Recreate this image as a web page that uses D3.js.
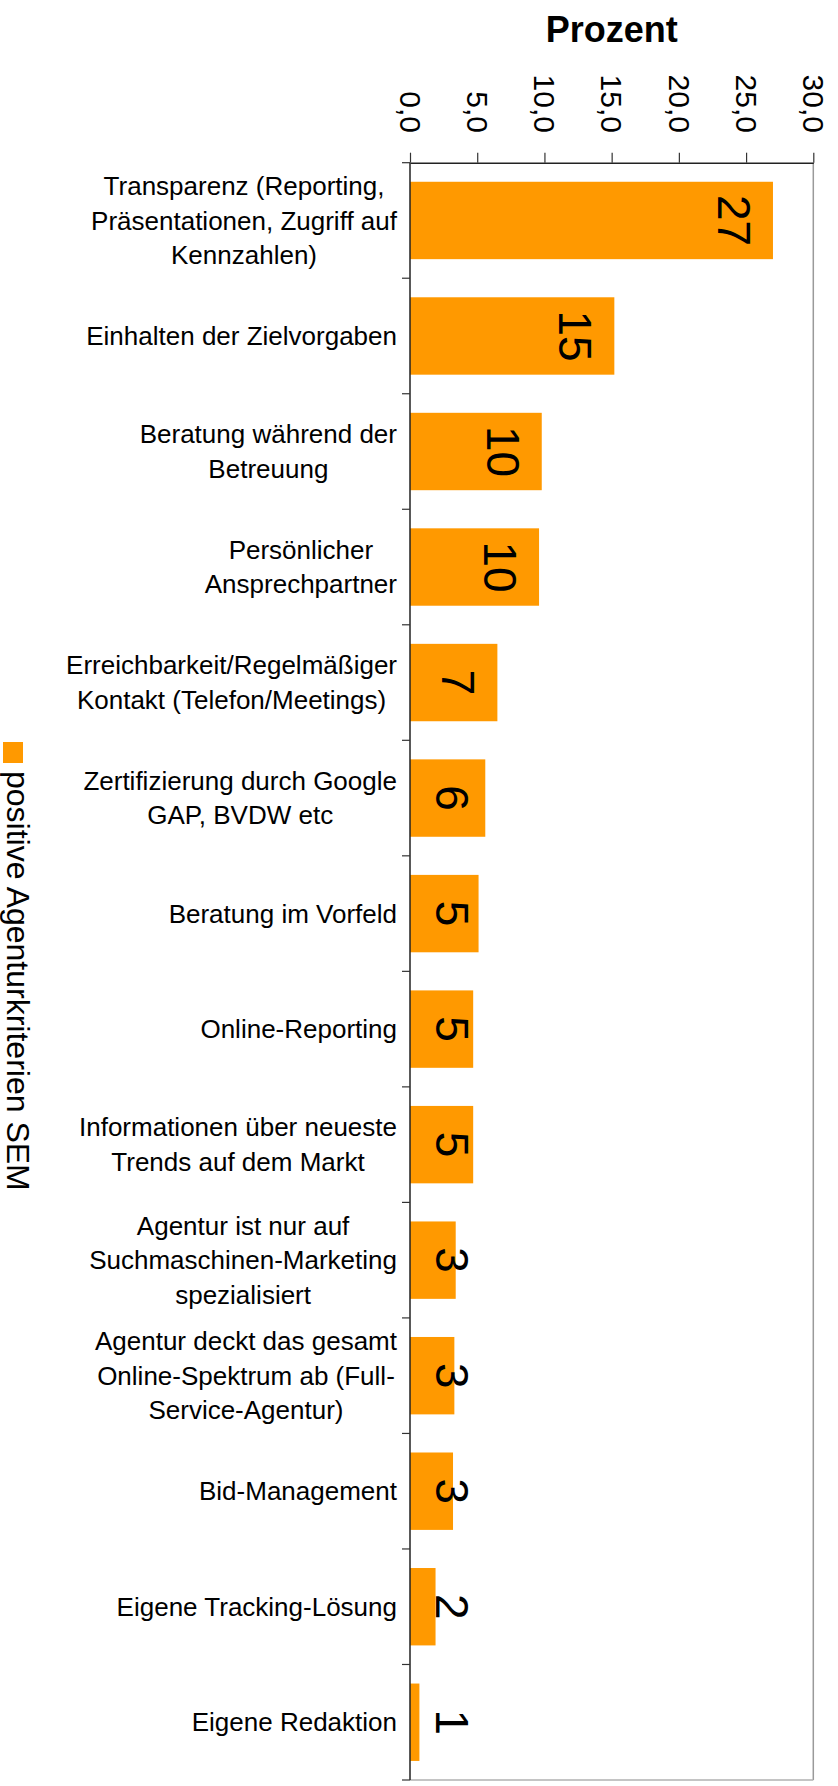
<!DOCTYPE html>
<html>
<head>
<meta charset="utf-8">
<script src="https://cdn.jsdelivr.net/npm/d3@7"></script>
<style>
  body { margin: 0; background: #fff; }
  text { font-family: "Liberation Sans", Arial, sans-serif; fill: #000; }
</style>
</head>
<body>
<svg id="chart"></svg>
<script>
var categories = [
  "Transparenz (Reporting,\nPräsentationen, Zugriff auf\nKennzahlen)",
  "Einhalten der Zielvorgaben",
  "Beratung während der\nBetreuung",
  "Persönlicher\nAnsprechpartner",
  "Erreichbarkeit/Regelmäßiger\nKontakt (Telefon/Meetings)",
  "Zertifizierung durch Google\nGAP, BVDW etc",
  "Beratung im Vorfeld",
  "Online-Reporting",
  "Informationen über neueste\nTrends auf dem Markt",
  "Agentur ist nur auf\nSuchmaschinen-Marketing\nspezialisiert",
  "Agentur deckt das gesamt\nOnline-Spektrum ab (Full-\nService-Agentur)",
  "Bid-Management",
  "Eigene Tracking-Lösung",
  "Eigene Redaktion"
];
var values = [27.0, 15.2, 9.8, 9.6, 6.5, 5.6, 5.1, 4.7, 4.7, 3.4, 3.3, 3.2, 1.9, 0.7];
var xTicks = [0, 5, 10, 15, 20, 25, 30];
var seriesName = "positive Agenturkriterien SEM";
var axisTitle = "Prozent";

var width = 838;
var height = 1786;
var orange = "#ff9900";

var svg = d3.select("#chart")
  .attr("width", width)
  .attr("height", height);

// plot area edges (note: "top" is a reserved window property, so use other names)
var plotLeft = 410, plotRight = 813.3, plotTop = 162.7, plotBottom = 1780;

var x = d3.scaleLinear().domain([0, 30]).range([plotLeft, plotRight]);
var y = d3.scaleBand().domain(categories).range([plotTop, plotBottom])
  .paddingInner(0.33).paddingOuter(0.165);

// plot frame (right + bottom are light grey)
svg.append("line")
  .attr("x1", plotRight).attr("x2", plotRight).attr("y1", plotTop).attr("y2", plotBottom)
  .style("stroke", "#9a9a9a").style("stroke-width", 1.5);
svg.append("line")
  .attr("x1", plotLeft).attr("x2", plotRight).attr("y1", plotBottom).attr("y2", plotBottom)
  .style("stroke", "#b0b0b0").style("stroke-width", 1.5);

// bars
svg.selectAll("rect.bar")
  .data(values)
  .enter()
  .append("rect")
  .attr("class", "bar")
  .attr("x", x(0))
  .attr("y", function(d, i) { return y(categories[i]); })
  .attr("width", function(d) { return x(d) - x(0); })
  .attr("height", y.bandwidth())
  .attr("fill", orange);

// value labels, rotated, inside end of the bar (pushed out when bar is short)
svg.selectAll("text.value")
  .data(values)
  .enter()
  .append("text")
  .attr("class", "value")
  .attr("transform", function(d, i) {
    var capTop = Math.max(x(d) - 22, 469);
    var cy = y(categories[i]) + y.bandwidth() / 2;
    return "translate(" + (capTop - 33) + "," + cy + ") rotate(90)";
  })
  .attr("text-anchor", "middle")
  .style("font-size", "46px")
  .text(function(d) { return Math.round(d); });

// top axis
var xAxis = d3.axisTop(x)
  .tickValues(xTicks)
  .tickSize(10)
  .tickSizeOuter(0)
  .tickFormat(function(d) { return d3.format(".1f")(d).replace(".", ","); });

var gx = svg.append("g")
  .attr("transform", "translate(0," + plotTop + ")")
  .call(xAxis);

gx.select(".domain").style("stroke", "#222").style("stroke-width", 1.5);
gx.selectAll(".tick line").style("stroke", "#333").style("stroke-width", 1.2);
gx.selectAll(".tick text")
  .attr("transform", "rotate(90)")
  .attr("x", -29.7)
  .attr("y", 10.7)
  .attr("dy", 0)
  .attr("text-anchor", "end")
  .style("font-family", "'Liberation Sans', Arial, sans-serif")
  .style("font-size", "30px")
  .attr("fill", "#000");

// left axis: line + ticks at band boundaries
var gap = (y.step() - y.bandwidth()) / 2;
var bounds = categories.map(function(c) { return y(c) - gap; });
bounds.push(plotBottom);

svg.append("line")
  .attr("x1", plotLeft).attr("x2", plotLeft).attr("y1", plotTop).attr("y2", plotBottom)
  .style("stroke", "#222").style("stroke-width", 1.5);

svg.selectAll("line.ytick")
  .data(bounds)
  .enter()
  .append("line")
  .attr("class", "ytick")
  .attr("x1", plotLeft - 8).attr("x2", plotLeft)
  .attr("y1", function(d) { return d; })
  .attr("y2", function(d) { return d; })
  .style("stroke", "#333").style("stroke-width", 1.2);

// category labels: lines centred inside a block that is right aligned
var lineH = 34.5;
categories.forEach(function(c) {
  var lines = c.split("\n");
  var cy = y(c) + y.bandwidth() / 2;
  var t = svg.append("text")
    .style("font-size", "26px")
    .attr("text-anchor", "middle");
  lines.forEach(function(l, j) {
    t.append("tspan")
      .attr("y", cy + (j - (lines.length - 1) / 2) * lineH)
      .attr("dy", "0.35em")
      .text(l);
  });
  var maxW = 0;
  t.selectAll("tspan").each(function() {
    maxW = Math.max(maxW, this.getComputedTextLength());
  });
  t.selectAll("tspan").attr("x", 397 - maxW / 2);
});

// axis title
svg.append("text")
  .attr("x", (plotLeft + plotRight) / 2)
  .attr("y", 42)
  .attr("text-anchor", "middle")
  .style("font-size", "36px")
  .style("font-weight", "bold")
  .text(axisTitle);

// legend (rotated)
svg.append("rect")
  .attr("x", 3).attr("y", 742)
  .attr("width", 20).attr("height", 21)
  .attr("fill", orange);

svg.append("text")
  .attr("transform", "translate(7,771) rotate(90)")
  .style("font-size", "32px")
  .text(seriesName);
</script>
</body>
</html>
